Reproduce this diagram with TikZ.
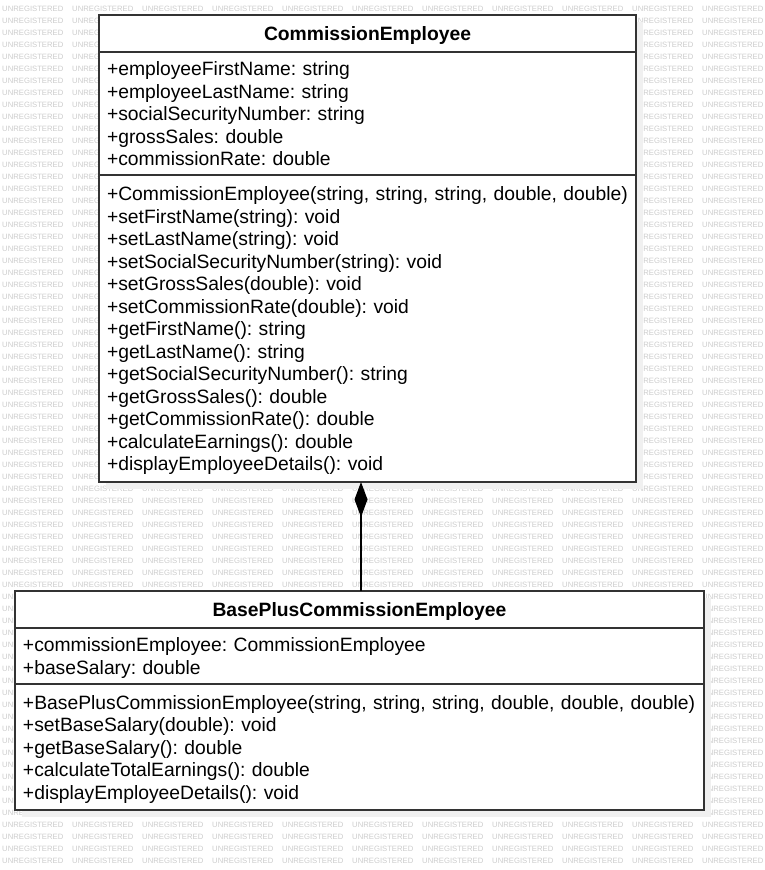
\documentclass[tikz,border=0pt]{standalone}
\usepackage{fontspec}
\setmainfont{Liberation Sans}
\frenchspacing
\usetikzlibrary{positioning,arrows.meta,backgrounds}

\newcommand{\umllines}[1]{\noindent\raisebox{-2.5pt}[\height][\depth]{\begin{tabular}{@{}l@{}}#1\end{tabular}}}

\tikzset{
  umlname/.style={draw=black!80, line width=1.3pt, fill=white, outer sep=0pt, inner sep=0pt,
    minimum width=#1, minimum height=37pt, text height=13.8pt, text depth=0pt,
    font=\bfseries\fontsize{19.3}{22.5}\selectfont},
  umlpart/.style 2 args={draw=black!80, line width=1.3pt, fill=white, outer sep=0pt,
    inner xsep=8pt, inner ysep=0pt, text width=#1, minimum height=#2,
    font=\fontsize{19.3}{22.5}\selectfont},
  watermark/.style={anchor=west, inner sep=0pt, text=black!20, font=\fontsize{7.7}{8}\selectfont},
  classshadow/.style={fill=black!6}
}

\begin{document}
\begin{tikzpicture}[x=1pt, y=-1pt]
        \useasboundingbox (0,0) rectangle (765,870);

        % CommissionEmployee
        \node [umlname=537pt] (comm-name) at (367.5,33.5) {CommissionEmployee};
        \node [umlpart={521pt}{123pt}, below=0pt of comm-name] (comm-attrs) {\umllines{%
                +employeeFirstName: string\\
                +employeeLastName: string\\
                +socialSecurityNumber: string\\
                +grossSales: double\\
                +commissionRate: double}};
        \node [umlpart={521pt}{307pt}, below=0pt of comm-attrs] (comm-ops) {\umllines{%
                +CommissionEmployee(string, string, string, double, double)\\
                +setFirstName(string): void\\
                +setLastName(string): void\\
                +setSocialSecurityNumber(string): void\\
                +setGrossSales(double): void\\
                +setCommissionRate(double): void\\
                +getFirstName(): string\\
                +getLastName(): string\\
                +getSocialSecurityNumber(): string\\
                +getGrossSales(): double\\
                +getCommissionRate(): double\\
                +calculateEarnings(): double\\
                +displayEmployeeDetails(): void}};

        % BasePlusCommissionEmployee
        \node [umlname=689pt] (base-name) at (359.5,609.5) {BasePlusCommissionEmployee};
        \node [umlpart={673pt}{56pt}, below=0pt of base-name] (base-attrs) {\umllines{%
                +commissionEmployee: CommissionEmployee\\
                +baseSalary: double}};
        \node [umlpart={673pt}{126pt}, below=0pt of base-attrs] (base-ops) {\umllines{%
                +BasePlusCommissionEmployee(string, string, string, double, double, double)\\
                +setBaseSalary(double): void\\
                +getBaseSalary(): double\\
                +calculateTotalEarnings(): double\\
                +displayEmployeeDetails(): void}};

        % composition
        \coordinate (joint) at (361,0);
        \draw [black, line width=1.2pt, -{Diamond[length=35pt,width=13pt]}]
                (base-name.north -| joint) -- (comm-ops.south -| joint);

        \begin{scope}[on background layer]
                \foreach \j in {0,...,10}
                        \foreach \k in {0,...,71}
                                \node [watermark] (wm-\j-\k) at (2+70*\j, 9+12*\k) {UNREGISTERED};
                \fill [classshadow] ([xshift=7pt,yshift=-7pt]comm-name.north west) rectangle ([xshift=7pt,yshift=-7pt]comm-ops.south east);
                \fill [classshadow] ([xshift=7pt,yshift=-7pt]base-name.north west) rectangle ([xshift=7pt,yshift=-7pt]base-ops.south east);
        \end{scope}
\end{tikzpicture}
\end{document}
